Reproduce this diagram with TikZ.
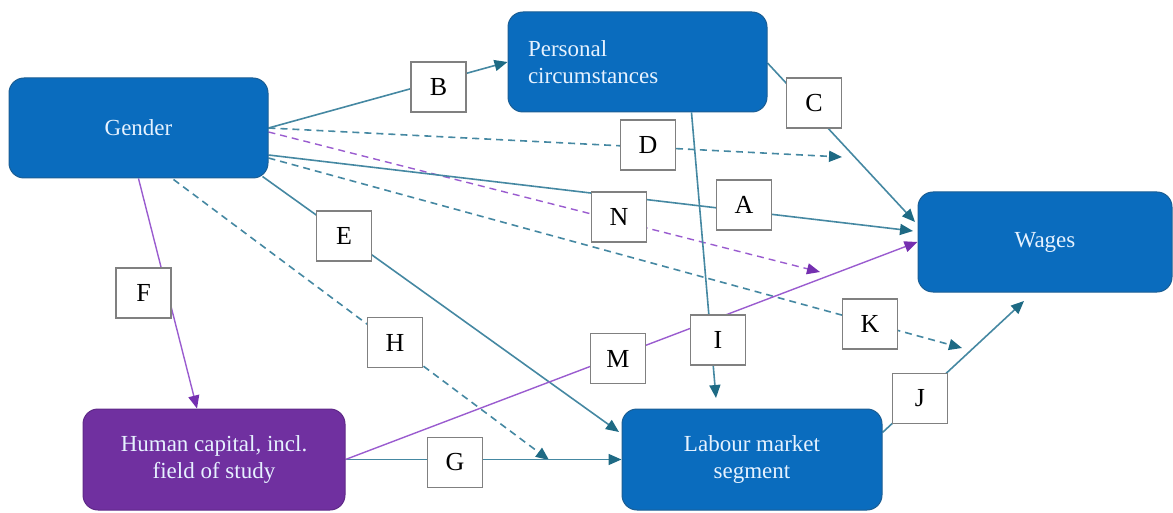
\documentclass[tikz,border=0pt]{standalone}
\usepackage{fontspec}
\setmainfont{Liberation Serif}
\usetikzlibrary{arrows.meta,calc}
\definecolor{boxblue}{HTML}{0A6CBE}
\definecolor{boxedge}{HTML}{1B5E94}
\definecolor{boxpurple}{HTML}{7030A0}
\definecolor{boxtext}{HTML}{E6F2FF}
\definecolor{linkteal}{HTML}{4588A2}
\definecolor{tipteal}{HTML}{1E6A84}
\definecolor{linkpurple}{HTML}{9A5CCF}
\definecolor{tippurple}{HTML}{7530B0}
\definecolor{lblgray}{HTML}{808080}
\pgfdeclarelayer{bg}
\pgfsetlayers{bg,main}
\begin{document}
\begin{tikzpicture}[x=1pt,y=-1pt,
  mainbox/.style={draw=boxedge, line width=1pt, fill=boxblue, rounded corners=15pt,
    minimum width=259pt, minimum height=100pt, text=boxtext,
    font=\fontsize{23}{27}\selectfont, align=center, inner sep=0pt},
  hcbox/.style={mainbox, fill=boxpurple, draw=boxpurple!85!black},
  lbl/.style={draw=lblgray, line width=1.3pt, fill=white, minimum width=55pt,
    minimum height=50pt, inner sep=0pt, font=\fontsize{26}{30}\selectfont},
  tl/.style={draw=linkteal, line width=1.6pt, -{Triangle[length=13pt,width=11pt,color=tipteal]}},
  pl/.style={draw=linkpurple, line width=1.4pt, -{Triangle[length=13pt,width=11pt,color=tippurple]}},
  dsh/.style={dash pattern=on 7pt off 5pt}
]
\useasboundingbox (0,0) rectangle (1173,513);

% main boxes
\node[mainbox] (gender) at (138.5,128) {Gender};
\node[mainbox, align=left, inner xsep=20pt, text width=219pt] (pc) at (637.5,62) {Personal\\circumstances};
\node[mainbox, minimum width=254pt] (wages) at (1045,242) {Wages};
\node[hcbox, minimum width=262pt, minimum height=101pt] (hc) at (214,459.5) {Human capital, incl.\\field of study};
\node[mainbox, minimum width=260pt, minimum height=101pt] (lms) at (752,459.5) {Labour market\\segment};

% free ends
\coordinate (dEnd) at (842,157);
\coordinate (nEnd) at (820,272);
\coordinate (aEnd) at (913,231);
\coordinate (kEnd) at (962,348);
\coordinate (eEnd) at (619,432);
\coordinate (hEnd) at (549,460);
\coordinate (cEnd) at (915,222);
\coordinate (iEnd) at (716,398);
\coordinate (jEnd) at (1024,301);

\begin{pgfonlayer}{bg}
\draw[tl] (gender.east) -- (pc.west);
\draw[tl,dsh] (gender.east) -- (dEnd);
\draw[pl,dsh] ($(gender.east)+(0,4)$) -- (nEnd);
\draw[tl] ($(gender.east)+(0,27)$) -- (aEnd);
\draw[tl,dsh] ($(gender.east)+(0,30)$) -- (kEnd);
\draw[tl] ($(gender.south east)+(-6,-2)$) -- (eEnd);
\draw[pl] (gender.south) -- ($(hc.north)+(-17,0)$);
\draw[tl,dsh] ($(gender.south)+(35,1)$) -- (hEnd);
\draw[tl] (hc.east) -- (lms.west);
\draw[pl] (hc.east) -- (wages.west);
\draw[tl] ($(pc.east)+(0,1)$) -- (cEnd);
\draw[tl] ($(pc.south)+(54,0)$) -- (iEnd);
\draw[tl] ($(lms.east)+(0,-27)$) -- (jEnd);
\end{pgfonlayer}

% label boxes
\node[lbl] (lB) at (438.5,87) {B};
\node[lbl] (lC) at (814,103) {C};
\node[lbl] (lD) at (648,145) {D};
\node[lbl] (lA) at (744,205) {A};
\node[lbl] (lN) at (619,217) {N};
\node[lbl] (lE) at (344,236) {E};
\node[lbl] (lF) at (143.5,293) {F};
\node[lbl] (lH) at (395,342.5) {H};
\node[lbl] (lM) at (618,358.5) {M};
\node[lbl] (lI) at (718,340) {I};
\node[lbl] (lK) at (870,324) {K};
\node[lbl] (lJ) at (920,398.5) {J};
\node[lbl] (lG) at (455,462.5) {G};
\end{tikzpicture}
\end{document}
